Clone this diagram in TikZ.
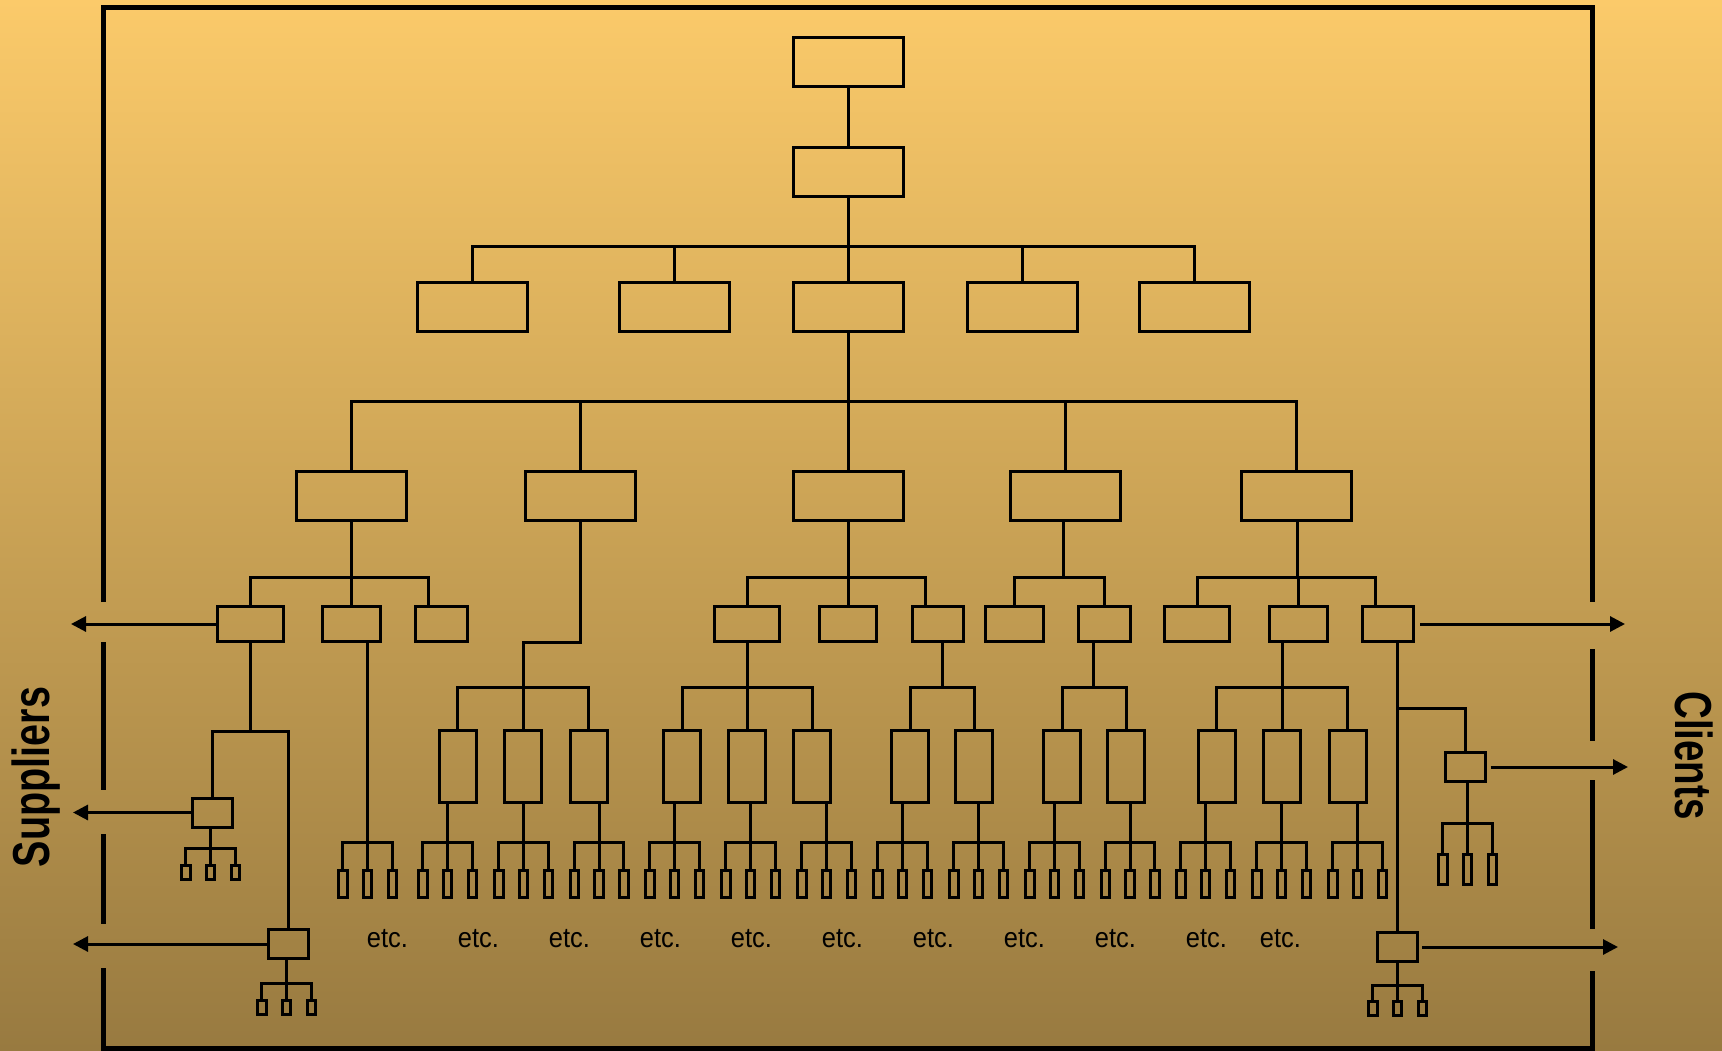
\documentclass[tikz,border=0pt]{standalone}
\usepackage{fontspec}
\setmainfont{Liberation Sans}
\usepackage{xcolor}
\usepackage{tikz}
\usetikzlibrary{arrows.meta, positioning}

\definecolor{bgtop}{RGB}{251,202,106}
\definecolor{bgmid}{RGB}{209,168,88}
\definecolor{bgbot}{RGB}{152,122,64}

\begin{document}
\begin{tikzpicture}[
	% Picture Styling
	x=1pt, y=-1pt,
	>={Triangle[length=15pt, width=15pt]},
	bigbox/.style={draw, line width=3pt, inner sep=0pt, minimum width=110pt, minimum height=49pt},
	midbox/.style={draw, line width=3pt, inner sep=0pt, minimum height=35pt},
	tallbox/.style={draw, line width=3pt, inner sep=0pt, minimum width=37pt, minimum height=72pt},
	tinybox/.style={draw, line width=3pt, inner sep=0pt, minimum width=8.5pt, minimum height=27pt},
	sidebox/.style={draw, line width=3pt, inner sep=0pt, minimum width=40pt, minimum height=29pt},
	link/.style={line width=3pt},
	flow/.style={->, line width=3pt},
	frame/.style={line width=5pt},
	sidelabel/.style={inner sep=0pt, font=\fontsize{52}{52}\selectfont\bfseries},
	etcnote/.style={inner sep=0pt, anchor=base, font=\fontsize{28}{28}\selectfont}
]
% Background and company boundary
\useasboundingbox (0,0) rectangle (1722,1050);
\fill[top color=bgtop, middle color=bgmid, bottom color=bgbot] (0,0) rectangle (1722,1050);
\draw[frame] (103.5,602) |- (1592,7.5) -- (1592,602);
\draw[frame] (103.5,642) -- (103.5,790);
\draw[frame] (103.5,834) -- (103.5,924);
\draw[frame] (103.5,968) |- (1592,1048.5) -- (1592,971);
\draw[frame] (1592,649) -- (1592,741);
\draw[frame] (1592,780) -- (1592,929);

% Top of the chart
\node[bigbox] (top) at (848.5,62) {};
\node[bigbox, below=58pt of top] (second) {};
\node[bigbox] (h1) at (472,307) {};
\node[bigbox] (h2) at (674,307) {};
\node[bigbox] (h3) at (848.5,307) {};
\node[bigbox] (h4) at (1022.5,307) {};
\node[bigbox] (h5) at (1194.5,307) {};
\node[bigbox] (m1) at (351,496) {};
\node[bigbox] (m2) at (580.5,496) {};
\node[bigbox] (m3) at (848.5,496) {};
\node[bigbox] (m4) at (1065,496) {};
\node[bigbox] (m5) at (1296,496) {};

% Fifth level
\node[midbox, minimum width=66pt] (s11) at (250.5,624) {};
\node[midbox, minimum width=58pt] (s12) at (351.5,624) {};
\node[midbox, minimum width=52pt] (s13) at (441.5,624) {};
\node[midbox, minimum width=65pt] (s31) at (747,624) {};
\node[midbox, minimum width=57pt] (s32) at (848,624) {};
\node[midbox, minimum width=51pt] (s33) at (938,624) {};
\node[midbox, minimum width=58pt] (s41) at (1014.5,624) {};
\node[midbox, minimum width=52pt] (s42) at (1104.5,624) {};
\node[midbox, minimum width=65pt] (s51) at (1197,624) {};
\node[midbox, minimum width=58pt] (s52) at (1298.5,624) {};
\node[midbox, minimum width=51pt] (s53) at (1388,624) {};

% Sixth level
\node[tallbox] (wb1) at (457.5,766.5) {};
\node[tallbox] (wb2) at (523,766.5) {};
\node[tallbox] (wb3) at (588.5,766.5) {};
\node[tallbox] (wc1) at (682,766.5) {};
\node[tallbox] (wc2) at (747,766.5) {};
\node[tallbox] (wc3) at (812,766.5) {};
\node[tallbox] (wd1) at (910,766.5) {};
\node[tallbox] (wd2) at (974,766.5) {};
\node[tallbox] (we1) at (1062,766.5) {};
\node[tallbox] (we2) at (1126,766.5) {};
\node[tallbox] (wf1) at (1216.5,766.5) {};
\node[tallbox] (wf2) at (1282,766.5) {};
\node[tallbox] (wf3) at (1347.5,766.5) {};

% Suppliers and clients boxes
\node[sidebox] (sup1) at (212.5,812.5) {};
\node[sidebox] (sup2) at (288,944) {};
\node[sidebox] (cli1) at (1465,767) {};
\node[sidebox] (cli2) at (1397.5,947) {};

% Bus points
\coordinate (bus1) at (848.5,246);
\coordinate (bus2) at (848.5,401);
\coordinate (hubA) at (351,577);
\coordinate (hubC) at (848.5,577);
\coordinate (hubD) at (1063,577);
\coordinate (hubE) at (1297.5,577);
\coordinate (bendB) at (580.5,642);
\coordinate (hubB) at (523,687);
\coordinate (hubC1) at (747,687);
\coordinate (hubC3) at (942,687);
\coordinate (hubD2) at (1093.5,687);
\coordinate (hubE2) at (1282,687);
\coordinate (hubS) at (250.5,731);
\coordinate (hubR) at (1397.5,708);

% Links down the hierarchy
\draw[link] (top) -- (second);
\draw[link] (second) -- (bus1);
\foreach \n in {h1,h2,h3,h4,h5} \draw[link] (bus1) -| (\n.north);
\draw[link] (h3) -- (bus2);
\foreach \n in {m1,m2,m3,m4,m5} \draw[link] (bus2) -| (\n.north);
\draw[link] (m1) -- (hubA);
\draw[link] (hubA) -| (s11.north);
\draw[link] (hubA) -| (s12.north);
\draw[link] (hubA) -| ([xshift=-13.5pt]s13.north);
\draw[link] (m2) -- (bendB) -| (hubB);
\draw[link] (m3) -- (hubC);
\draw[link] (hubC) -| (s31.north);
\draw[link] (hubC) -| (s32.north);
\draw[link] (hubC) -| ([xshift=-13pt]s33.north);
\draw[link] (m4.south -| hubD) -- (hubD);
\draw[link] (hubD) -| (s41.north);
\draw[link] (hubD) -| (s42.north);
\draw[link] (m5.south -| hubE) -- (hubE);
\draw[link] (hubE) -| (s51.north);
\draw[link] (hubE) -| (s52.north);
\draw[link] (hubE) -| ([xshift=-13pt]s53.north);
\draw[link] (s31.south -| hubC1) -- (hubC1);
\draw[link] (s33.south -| hubC3) -- (hubC3);
\draw[link] (s42.south -| hubD2) -- (hubD2);
\draw[link] (s52.south -| hubE2) -- (hubE2);
\foreach \h/\n in {hubB/wb1, hubB/wb2, hubB/wb3, hubC1/wc1, hubC1/wc2, hubC1/wc3, hubC3/wd1, hubC3/wd2,
	hubD2/we1, hubD2/we2, hubE2/wf1, hubE2/wf2, hubE2/wf3}
	\draw[link] (\h) -| (\n.north);

% Bottom row of units
\foreach \c/\p [count=\i] in {367.5/s12, 447.5/wb1, 523.5/wb2, 599/wb3, 674.5/wc1, 750.5/wc2, 826.5/wc3,
	902.5/wd1, 978.5/wd2, 1054.5/we1, 1130/we2, 1205.5/wf1, 1281.5/wf2, 1357.5/wf3} {
	\coordinate (g\i) at (\c,842);
	\draw[link] (\p.south -| g\i) -- (g\i);
	\foreach \d [count=\j] in {-24.75,0,24.75} {
		\node[tinybox] (g\i-\j) at (\c+\d,884) {};
		\draw[link] (g\i) -| (g\i-\j.north);
	}
}
\foreach \x [count=\i] in {387.5,478.5,569.5,660.5,751.5,842.5,933.5,1024.5,1115.5,1206.5,1280.5}
	\node[etcnote] (etc\i) at (\x,947) {\scalebox{0.91}[1]{etc.}};

% Suppliers and clients branches
\draw[link] (s11) -- (hubS);
\draw[link] (hubS) -| (sup1.north);
\draw[link] (hubS) -| (sup2.north);
\draw[link] (s53.south -| cli2) -- (cli2);
\draw[link] (hubR) -| (cli1.north);
\foreach \p/\c/\b/\y/\h in {sup1/210.5/848/872.5/14pt, sup2/286.5/983/1007.5/14pt,
	cli1/1467.5/823/869.5/30pt, cli2/1397.5/985/1008.5/14pt} {
	\coordinate (\p-hub) at (\c,\b);
	\draw[link] (\p.south -| \p-hub) -- (\p-hub);
	\foreach \d [count=\j] in {-24.75,0,24.75} {
		\node[tinybox, minimum height=\h] (\p-\j) at (\c+\d,\y) {};
		\draw[link] (\p-hub) -| (\p-\j.north);
	}
}

% Flows out of the company
\coordinate (supOut1) at (71,624);
\coordinate (supOut2) at (73,812.5);
\coordinate (supOut3) at (73,944);
\coordinate (cliOut1) at (1625,624);
\coordinate (cliOut2) at (1628,767);
\coordinate (cliOut3) at (1618,947);
\draw[flow] (s11.west) -- (supOut1);
\draw[flow] (sup1.west) -- (supOut2);
\draw[flow] (sup2.west) -- (supOut3);
\draw[flow, shorten <=5pt] (s53.east) -- (cliOut1);
\draw[flow, shorten <=4pt] (cli1.east) -- (cliOut2);
\draw[flow, shorten <=3pt] (cli2.east) -- (cliOut3);

% Side labels
\node[sidelabel, rotate=90] (suppliers) at (36.5,777) {\scalebox{0.76}[1]{Suppliers}};
\node[sidelabel, rotate=-90] (clients) at (1694,755.5) {\scalebox{0.74}[1]{Clients}};
\end{tikzpicture}
\end{document}
